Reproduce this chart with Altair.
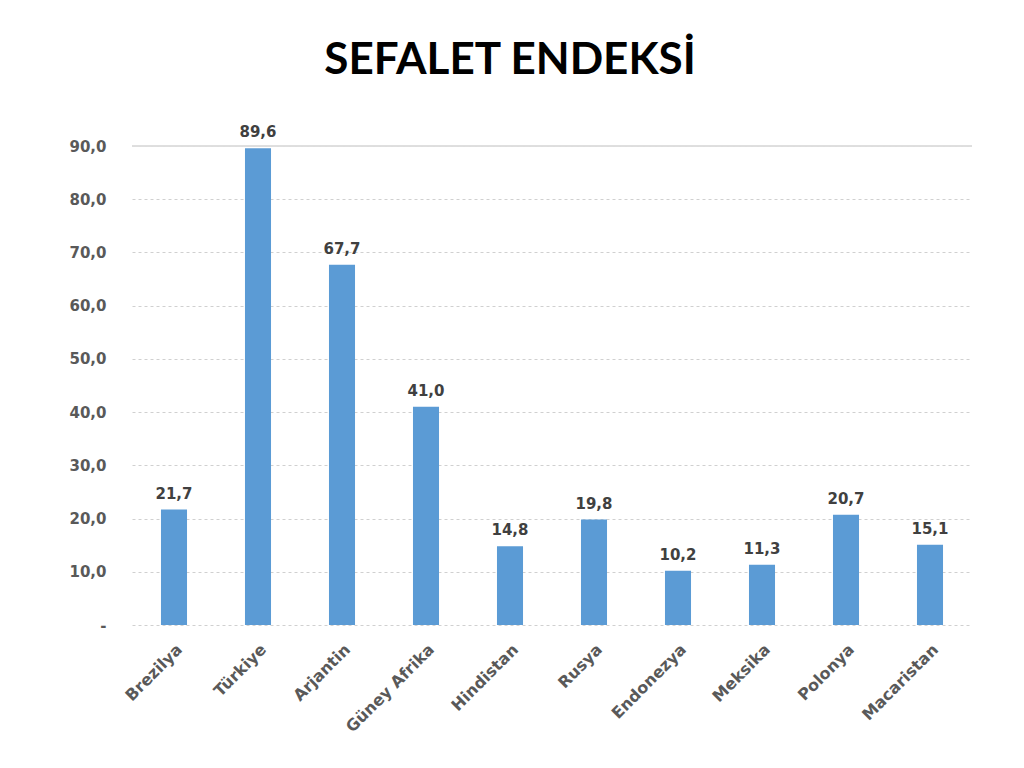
import altair as alt
import pandas as pd

countries = ["Brezilya", "Türkiye", "Arjantin", "Güney Afrika", "Hindistan",
             "Rusya", "Endonezya", "Meksika", "Polonya", "Macaristan"]
values = [21.7, 89.6, 67.7, 41.0, 14.8, 19.8, 10.2, 11.3, 20.7, 15.1]
y_ticks = [0, 10, 20, 30, 40, 50, 60, 70, 80, 90]

df = pd.DataFrame({"country": countries, "value": values})

font = "DejaVu Sans"

base = alt.Chart(df).encode(
    x=alt.X("country:N", sort=countries, title=None,
            scale=alt.Scale(paddingInner=0.69, paddingOuter=0.345),
            axis=alt.Axis(labelAngle=-45, labelAlign="right", labelBaseline="top",
                          labelFont=font, labelFontSize=16, labelFontWeight="bold",
                          labelColor="#595959", domain=False, ticks=False,
                          labelPadding=16, grid=False)),
    y=alt.Y("value:Q", title=None,
            scale=alt.Scale(domain=[0, 90], nice=False),
            axis=alt.Axis(values=y_ticks,
                          labelExpr="datum.value == 0 ? '-' : replace(format(datum.value, '.1f'), '.', ',')",
                          labelFont=font, labelFontSize=15, labelFontWeight="bold",
                          labelColor="#595959", domain=False, ticks=False,
                          labelPadding=26, grid=True, gridColor="#d0d0d0",
                          gridDash=[3, 3], gridWidth=1)),
)

top_rule = alt.Chart(df).mark_rule(color="#dedede", strokeWidth=1).encode(
    y=alt.datum(90)
)

bars = base.mark_bar(color="#5B9BD5")

labels = base.mark_text(dy=-16, font=font, fontSize=15, fontWeight="bold",
                        color="#404040").encode(
    text=alt.Text("label:N")
).transform_calculate(
    label="replace(format(datum.value, '.1f'), '.', ',')"
)

chart = (top_rule + bars + labels).properties(
    width=840, height=479,
    title=alt.TitleParams("SEFALET ENDEKSİ", font="Lato", fontSize=44,
                          fontWeight="bold", color="#000000", anchor="middle",
                          dx=-42, offset=42),
    autosize=alt.AutoSizeParams(type="none"),
    padding={"left": 132, "top": 146, "right": 52, "bottom": 143},
).configure(background="white").configure_view(strokeWidth=0, stroke=None)

chart.save("out.html", embed_options={"renderer": "svg", "actions": False})
